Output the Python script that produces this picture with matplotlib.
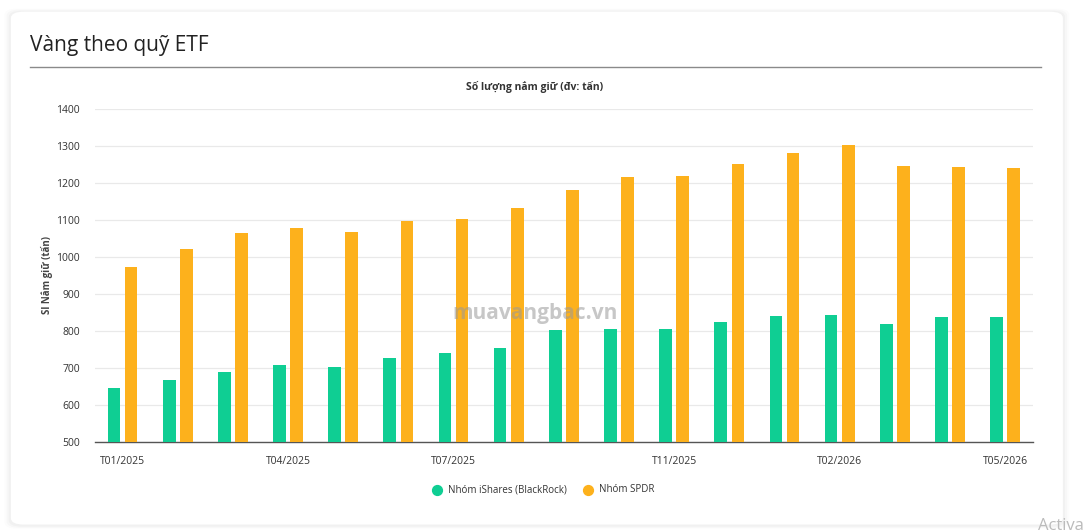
import numpy as np
import matplotlib.pyplot as plt
from matplotlib.patches import FancyBboxPatch

plt.rcParams['font.family'] = ['Open Sans', 'DejaVu Sans']

# Data (tons held), T01/2025 .. T05/2026
months = ['T01/2025', 'T02/2025', 'T03/2025', 'T04/2025', 'T05/2025', 'T06/2025',
          'T07/2025', 'T08/2025', 'T09/2025', 'T10/2025', 'T11/2025', 'T12/2025',
          'T01/2026', 'T02/2026', 'T03/2026', 'T04/2026', 'T05/2026']
ishares = [646, 668, 689, 707, 702, 726, 739, 754, 802, 804, 806, 824, 840, 843, 819, 838, 837]
spdr = [973, 1020, 1064, 1079, 1067, 1098, 1102, 1131, 1181, 1215, 1220, 1250, 1281, 1302, 1246, 1243, 1240]
shown_ticks = ['T01/2025', 'T04/2025', 'T07/2025', 'T11/2025', 'T02/2026', 'T05/2026']

green = '#0fce93'
orange = '#fdb11c'

fig = plt.figure(figsize=(10.89, 5.32), dpi=100)
fig.patch.set_facecolor('white')

# card with soft shadow
for i, a in enumerate([0.012, 0.018, 0.025]):
    pad = (3 - i) * 0.002
    fig.patches.append(FancyBboxPatch((0.010 - pad, 0.012 - pad), 0.966 + 2 * pad, 0.966 + 2 * pad,
                                      boxstyle='round,pad=0,rounding_size=0.012',
                                      transform=fig.transFigure, facecolor='black', alpha=a,
                                      edgecolor='none', zorder=0))
fig.patches.append(FancyBboxPatch((0.010, 0.014), 0.966, 0.964,
                                  boxstyle='round,pad=0,rounding_size=0.012',
                                  transform=fig.transFigure, facecolor='white',
                                  edgecolor='none', zorder=1))

fig.text(30 / 1089, 1 - 46 / 532, 'Vàng theo quỹ ETF', fontsize=15, color='#222222',
         va='center', ha='left')
fig.add_artist(plt.Line2D([30 / 1089, 1041 / 1089], [1 - 67 / 532, 1 - 67 / 532],
                          transform=fig.transFigure, color='#8a8a8a', lw=1))

ax = fig.add_axes([95 / 1089, 1 - 441.7 / 532, (1032.7 - 95) / 1089, (441.7 - 109) / 532])
ax.set_zorder(2)
ax.patch.set_alpha(0)

x = np.arange(len(months))
ax.bar(x - 0.155, ishares, width=0.23, bottom=0, color=green, zorder=3)
ax.bar(x + 0.155, spdr, width=0.23, bottom=0, color=orange, zorder=3)

ax.set_xlim(-0.5, len(months) - 0.5)
ax.set_ylim(500, 1400)
ax.set_yticks(range(500, 1401, 100))
ax.grid(axis='y', color='#e9e9e9', lw=0.9, zorder=0)
ax.set_axisbelow(True)
for s in ['top', 'right', 'left']:
    ax.spines[s].set_visible(False)
ax.spines['bottom'].set_color('#555555')
ax.spines['bottom'].set_linewidth(1)

tick_pos = [months.index(m) for m in shown_ticks]
ax.set_xticks(tick_pos)
ax.set_xticklabels(shown_ticks)
ax.tick_params(axis='x', length=0, pad=10, labelsize=7.5, labelcolor='#333333')
ax.tick_params(axis='y', length=0, pad=11, labelsize=7.5, labelcolor='#333333')

fig.text(535 / 1089, 1 - 87 / 532, 'Số lượng nắm giữ (đv: tấn)', fontsize=7.5, fontweight='bold',
         color='#333333', ha='center', va='center')
fig.text(47 / 1089, 1 - 275 / 532, 'Sl Nắm giữ (tấn)', fontsize=7, fontweight='bold',
         color='#444444', rotation=90, ha='center', va='center')

# watermark
fig.text(535 / 1089, 1 - 313 / 532, 'muavangbac.vn', fontsize=15, fontweight='bold',
         color='#999999', alpha=0.55, ha='center', va='center', zorder=5)

# legend
ax.scatter([], [], s=50, color=green, label='Nhóm iShares (BlackRock)')
ax.scatter([], [], s=50, color=orange, label='Nhóm SPDR')
fig.legend(*ax.get_legend_handles_labels(), loc='center', bbox_to_anchor=(541 / 1089, 1 - 490 / 532),
           ncol=2, frameon=False, fontsize=7, handletextpad=0.1, columnspacing=1.2,
           labelcolor='#333333')

fig.text(1038 / 1089, 1 - 526 / 532, 'Activa', fontsize=12, color='#bbbbbb', ha='left', va='center')

fig.savefig('out.png', dpi=100)
plt.close()
